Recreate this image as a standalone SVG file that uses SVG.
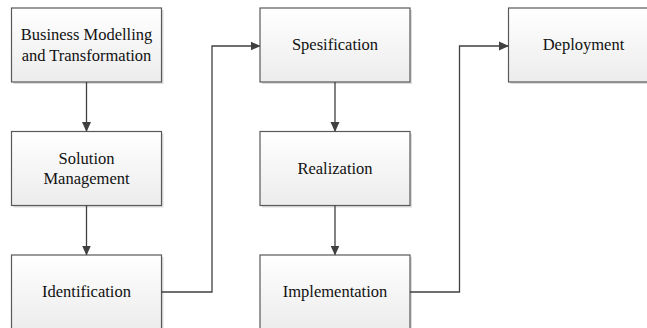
<svg xmlns="http://www.w3.org/2000/svg" width="647" height="328" viewBox="0 0 647 328">
<defs>
<linearGradient id="g" x1="0" y1="0" x2="0" y2="1">
<stop offset="0" stop-color="#ffffff"/>
<stop offset="1" stop-color="#ececec"/>
</linearGradient>
<marker id="ah" markerWidth="10" markerHeight="10" refX="9" refY="5" orient="auto" markerUnits="userSpaceOnUse">
<path d="M0,0.5 L10,5 L0,9.5 Z" fill="#404040"/>
</marker>
</defs>
<style>
.sh{fill:#dcdcdc}
.bx{fill:url(#g);stroke:#595959;stroke-width:1.2}
.t{font-family:"Liberation Serif","Times New Roman",serif;font-size:16.5px;fill:#111;text-anchor:middle}
.c{fill:none;stroke:#404040;stroke-width:1.3}
</style>
<rect width="647" height="328" fill="#fff"/>
<g id="n1">
<rect class="sh" x="13.5" y="10" width="150" height="74"/>
<rect class="bx" x="11.5" y="8" width="150" height="74"/>
<text class="t" x="86.5" y="40">Business Modelling</text>
<text class="t" x="86.5" y="61">and Transformation</text>
</g>
<g id="n2">
<rect class="sh" x="13.5" y="133.5" width="150" height="74"/>
<rect class="bx" x="11.5" y="131.5" width="150" height="74"/>
<text class="t" x="86.5" y="164">Solution</text>
<text class="t" x="86.5" y="184">Management</text>
</g>
<g id="n3">
<rect class="sh" x="13.5" y="257" width="150" height="74"/>
<rect class="bx" x="11.5" y="255" width="150" height="74"/>
<text class="t" x="86.5" y="297">Identification</text>
</g>
<g id="n4">
<rect class="sh" x="262" y="10" width="150" height="74"/>
<rect class="bx" x="260" y="8" width="150" height="74"/>
<text class="t" x="335" y="50">Spesification</text>
</g>
<g id="n5">
<rect class="sh" x="262" y="133.5" width="150" height="74"/>
<rect class="bx" x="260" y="131.5" width="150" height="74"/>
<text class="t" x="335" y="174">Realization</text>
</g>
<g id="n6">
<rect class="sh" x="262" y="257" width="150" height="74"/>
<rect class="bx" x="260" y="255" width="150" height="74"/>
<text class="t" x="335" y="297">Implementation</text>
</g>
<g id="n7">
<rect class="sh" x="510.5" y="10" width="150" height="74"/>
<rect class="bx" x="508.5" y="8" width="150" height="74"/>
<text class="t" x="583.5" y="50">Deployment</text>
</g>
<g id="connectors">
<path class="c" d="M86.5,82 V131" marker-end="url(#ah)"/>
<path class="c" d="M86.5,205.5 V254.5" marker-end="url(#ah)"/>
<path class="c" d="M161.5,292 H212 V46 H259.5" marker-end="url(#ah)"/>
<path class="c" d="M335,82 V131" marker-end="url(#ah)"/>
<path class="c" d="M335,205.5 V254.5" marker-end="url(#ah)"/>
<path class="c" d="M410,292 H459.5 V46 H508" marker-end="url(#ah)"/>
</g>
</svg>
